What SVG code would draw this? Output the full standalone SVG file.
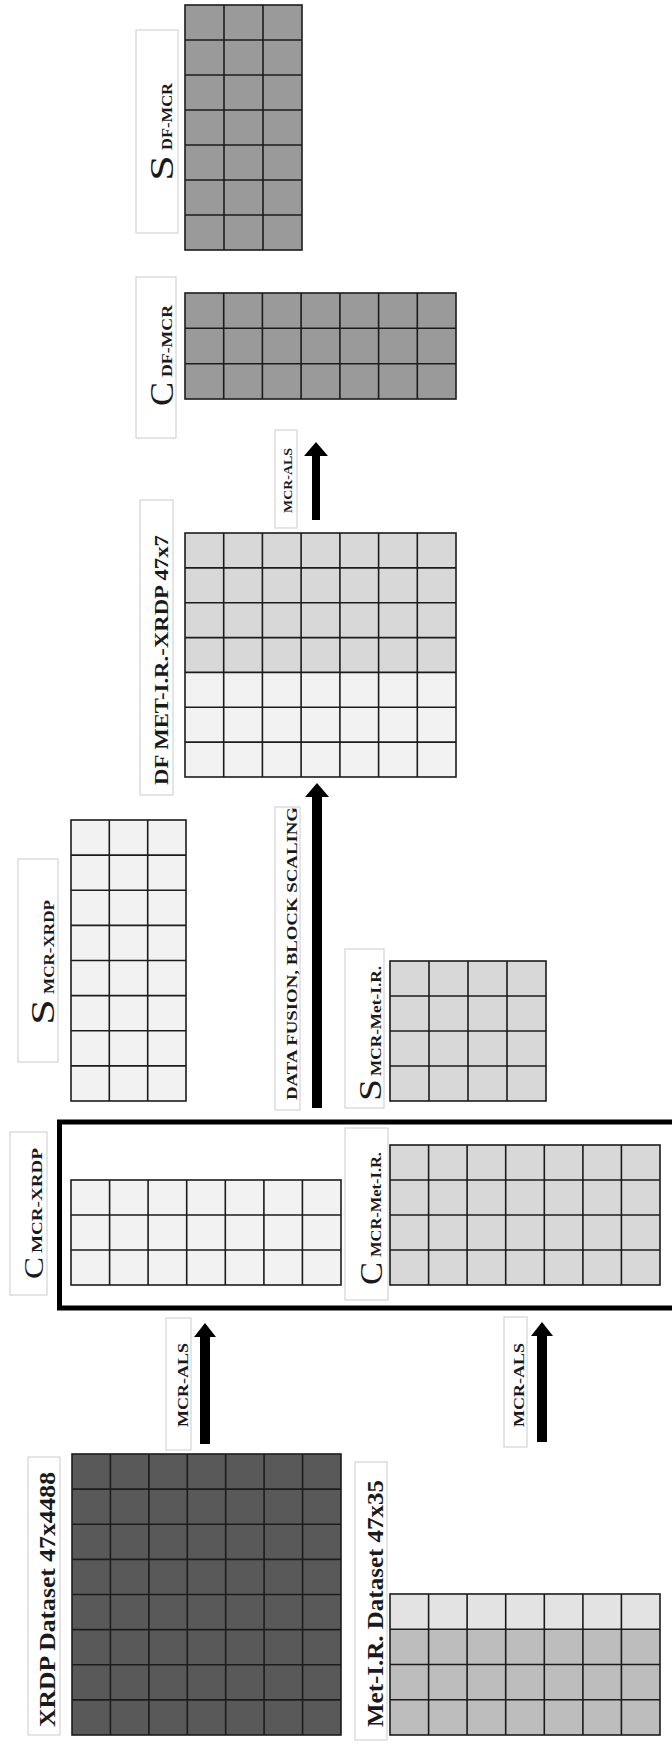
<svg xmlns="http://www.w3.org/2000/svg" width="672" height="1751" viewBox="0 0 672 1751">
<style>
.bg{fill:#fff}
.box{fill:#fff;stroke:#d4d4d4;stroke-width:1.2}
.gl{fill:none;stroke:#1c1c1c;stroke-width:1.6}
.t{font-family:"Liberation Serif","Times New Roman",serif;font-weight:bold;fill:#1a1a1a}
.big{font-family:"Liberation Serif","Times New Roman",serif;font-weight:normal;fill:#1a1a1a}
.arr{fill:#000}
.dark{fill:#595959}
.mid{fill:#9a9a9a}
.lg{fill:#d8d8d8}
.vl{fill:#f2f2f2}
.mg{fill:#bdbdbd}
.ml{fill:#e3e3e3}
</style>
<rect class="bg" x="0" y="0" width="672" height="1751"/>

<g id="s-df-mcr">
<rect class="box" x="136" y="30" width="42" height="203"/>
<text class="big" transform="translate(173,181) rotate(-90)" font-size="34" textLength="26" lengthAdjust="spacingAndGlyphs">S</text>
<text class="t" transform="translate(172,150) rotate(-90)" font-size="14" textLength="67" lengthAdjust="spacingAndGlyphs">DF-MCR</text>
<rect class="mid" x="185" y="5" width="117" height="245"/>
<rect class="gl" x="185" y="5" width="117" height="245"/>
<path class="gl" d="M224 5V250M263 5V250M185 40H302M185 75H302M185 110H302M185 145H302M185 180H302M185 215H302"/>
</g>

<g id="c-df-mcr">
<rect class="box" x="136" y="277" width="40" height="161"/>
<text class="big" transform="translate(173,406) rotate(-90)" font-size="34" textLength="24" lengthAdjust="spacingAndGlyphs">C</text>
<text class="t" transform="translate(172,377) rotate(-90)" font-size="14" textLength="72" lengthAdjust="spacingAndGlyphs">DF-MCR</text>
<rect class="mid" x="185" y="293" width="271" height="106"/>
<rect class="gl" x="185" y="293" width="271" height="106"/>
<path class="gl" d="M223.7 293V399M262.4 293V399M301.1 293V399M339.9 293V399M378.6 293V399M417.3 293V399M185 328.3H456M185 363.7H456"/>
</g>

<g id="df-met-ir-xrdp">
<rect class="box" x="140" y="500" width="33" height="295"/>
<text class="t" transform="translate(168,785) rotate(-90)" font-size="18" textLength="250" lengthAdjust="spacingAndGlyphs">DF MET-I.R.-XRDP 47x7</text>
<rect class="lg" x="185" y="533" width="271" height="139.4"/>
<rect class="vl" x="185" y="672.4" width="271" height="104.6"/>
<rect class="gl" x="185" y="533" width="271" height="244"/>
<path class="gl" d="M223.7 533V777M262.4 533V777M301.1 533V777M339.9 533V777M378.6 533V777M417.3 533V777M185 567.9H456M185 602.7H456M185 637.6H456M185 672.4H456M185 707.3H456M185 742.1H456"/>
</g>

<g id="s-mcr-xrdp">
<rect class="box" x="18" y="859" width="40" height="203"/>
<text class="big" transform="translate(54,1025) rotate(-90)" font-size="34" textLength="26" lengthAdjust="spacingAndGlyphs">S</text>
<text class="t" transform="translate(54,994) rotate(-90)" font-size="15" textLength="94" lengthAdjust="spacingAndGlyphs">MCR-XRDP</text>
<rect class="vl" x="71" y="820" width="115" height="281"/>
<rect class="gl" x="71" y="820" width="115" height="281"/>
<path class="gl" d="M109.3 820V1101M147.7 820V1101M71 855.1H186M71 890.3H186M71 925.4H186M71 960.5H186M71 995.6H186M71 1030.8H186M71 1065.9H186"/>
</g>

<g id="s-mcr-met-ir">
<rect class="box" x="345" y="949" width="39" height="159"/>
<text class="big" transform="translate(381,1101) rotate(-90)" font-size="32" textLength="22" lengthAdjust="spacingAndGlyphs">S</text>
<text class="t" transform="translate(381,1076) rotate(-90)" font-size="14" textLength="110" lengthAdjust="spacingAndGlyphs">MCR-Met-I.R.</text>
<rect class="lg" x="390" y="961" width="156" height="140"/>
<rect class="gl" x="390" y="961" width="156" height="140"/>
<path class="gl" d="M429 961V1101M468 961V1101M507 961V1101M390 996H546M390 1031H546M390 1066H546"/>
</g>

<g id="group-c">
<rect x="59.5" y="1122" width="630" height="186" fill="none" stroke="#000" stroke-width="5"/>
</g>

<g id="c-mcr-xrdp">
<rect class="box" x="10" y="1132" width="37" height="163"/>
<text class="big" transform="translate(43,1279) rotate(-90)" font-size="28" textLength="22" lengthAdjust="spacingAndGlyphs">C</text>
<text class="t" transform="translate(42,1253) rotate(-90)" font-size="14" textLength="105" lengthAdjust="spacingAndGlyphs">MCR-XRDP</text>
<rect class="vl" x="71" y="1180" width="270" height="105"/>
<rect class="gl" x="71" y="1180" width="270" height="105"/>
<path class="gl" d="M109.6 1180V1285M148.1 1180V1285M186.7 1180V1285M225.3 1180V1285M263.9 1180V1285M302.4 1180V1285M71 1215H341M71 1250H341"/>
</g>

<g id="c-mcr-met-ir">
<rect class="box" x="345" y="1128" width="43" height="172"/>
<text class="big" transform="translate(382,1285) rotate(-90)" font-size="32" textLength="23" lengthAdjust="spacingAndGlyphs">C</text>
<text class="t" transform="translate(381,1257) rotate(-90)" font-size="14" textLength="105" lengthAdjust="spacingAndGlyphs">MCR-Met-I.R.</text>
<rect class="lg" x="390" y="1145" width="270" height="140"/>
<rect class="gl" x="390" y="1145" width="270" height="140"/>
<path class="gl" d="M428.6 1145V1285M467.1 1145V1285M505.7 1145V1285M544.3 1145V1285M582.9 1145V1285M621.4 1145V1285M390 1180H660M390 1215H660M390 1250H660"/>
</g>

<g id="xrdp-dataset">
<rect class="box" x="28" y="1457" width="32" height="278"/>
<text class="t" transform="translate(55,1727) rotate(-90)" font-size="24" textLength="255" lengthAdjust="spacingAndGlyphs">XRDP Dataset 47x4488</text>
<rect class="dark" x="72" y="1454" width="269" height="281"/>
<rect class="gl" x="72" y="1454" width="269" height="281"/>
<path class="gl" d="M110.4 1454V1735M148.9 1454V1735M187.3 1454V1735M225.7 1454V1735M264.1 1454V1735M302.6 1454V1735M72 1489.1H341M72 1524.3H341M72 1559.4H341M72 1594.5H341M72 1629.6H341M72 1664.8H341M72 1699.9H341"/>
</g>

<g id="met-ir-dataset">
<rect class="box" x="355" y="1462" width="32" height="278"/>
<text class="t" transform="translate(383,1727) rotate(-90)" font-size="24" textLength="247" lengthAdjust="spacingAndGlyphs">Met-I.R. Dataset 47x35</text>
<rect class="ml" x="390" y="1594" width="270" height="35.3"/>
<rect class="mg" x="390" y="1629.3" width="270" height="105.7"/>
<rect class="gl" x="390" y="1594" width="270" height="141"/>
<path class="gl" d="M428.6 1594V1735M467.1 1594V1735M505.7 1594V1735M544.3 1594V1735M582.9 1594V1735M621.4 1594V1735M390 1629.3H660M390 1664.5H660M390 1699.8H660"/>
</g>

<g id="connectors">
<rect class="box" x="275" y="430" width="22" height="98"/>
<text class="t" transform="translate(292,513) rotate(-90)" font-size="12" textLength="65" lengthAdjust="spacingAndGlyphs">MCR-ALS</text>
<polygon class="arr" points="316,442 328,456 320,456 320,520 312,520 312,456 304,456"/>

<rect class="box" x="275" y="807" width="25" height="303"/>
<text class="t" transform="translate(297,1100) rotate(-90)" font-size="15" textLength="293" lengthAdjust="spacingAndGlyphs">DATA FUSION, BLOCK SCALING</text>
<polygon class="arr" points="317,783 329,797 322,797 322,1108 312,1108 312,797 305,797"/>

<rect class="box" x="166" y="1318" width="25" height="132"/>
<text class="t" transform="translate(188,1427) rotate(-90)" font-size="15" textLength="84" lengthAdjust="spacingAndGlyphs">MCR-ALS</text>
<polygon class="arr" points="205,1323 216,1337 210,1337 210,1444 200,1444 200,1337 194,1337"/>

<rect class="box" x="504" y="1317" width="23" height="130"/>
<text class="t" transform="translate(524,1427) rotate(-90)" font-size="15" textLength="84" lengthAdjust="spacingAndGlyphs">MCR-ALS</text>
<polygon class="arr" points="542,1322 553,1336 547,1336 547,1442 537,1442 537,1336 531,1336"/>
</g>
</svg>
